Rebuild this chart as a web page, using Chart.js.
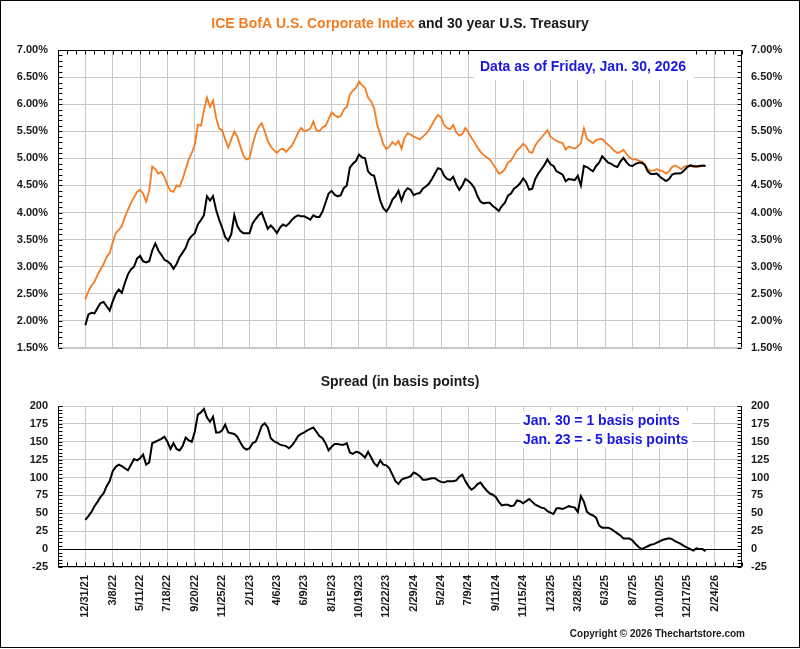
<!DOCTYPE html>
<html>
<head>
<meta charset="utf-8">
<script src="https://cdn.jsdelivr.net/npm/chart.js@4.4.1/dist/chart.umd.min.js"></script>
<style>
  body { margin: 0; background: #fff; }
  #wrap { position: relative; width: 800px; height: 649px; }
  #c1 { position: absolute; left: 0; top: 0; }
  #c2 { position: absolute; left: 0; top: 370px; }
  #frame { position: absolute; left: 0; top: 0; width: 800px; height: 648px; box-sizing: border-box; border: 1px solid #000; pointer-events: none; }
</style>
</head>
<body>
<div id="wrap">
  <canvas id="c1" width="800" height="370"></canvas>
  <canvas id="c2" width="800" height="279"></canvas>
  <div id="frame"></div>
</div>
<script>
// === Dados (leitura aproximada, ~1 ponto por semana a partir de 12/31/21) ===
const tickLabels = ["12/31/21", "3/8/22", "5/11/22", "7/18/22", "9/20/22", "11/25/22", "2/1/23", "4/6/23",
  "6/9/23", "8/15/23", "10/19/23", "12/22/23", "2/29/24", "5/2/24", "7/9/24", "9/11/24", "11/15/24",
  "1/23/25", "3/28/25", "6/3/25", "8/7/25", "10/10/25", "12/17/25", "2/24/26"];

// ICE BofA U.S. Corporate Index (%)
const corporate = [
  2.40, 2.55, 2.65, 2.72, 2.85, 2.95, 3.05, 3.18, 3.25,
  3.45, 3.62, 3.68, 3.75, 3.92, 4.05, 4.18, 4.28, 4.38,
  4.42, 4.35, 4.20, 4.40, 4.85, 4.80, 4.72, 4.75, 4.66,
  4.50, 4.40, 4.38, 4.50, 4.48, 4.62, 4.80, 4.98, 5.10,
  5.25, 5.62, 5.60, 5.88, 6.12, 5.95, 6.07, 5.75, 5.55,
  5.52, 5.35, 5.20, 5.35, 5.50, 5.40, 5.22, 5.05, 4.98,
  5.00, 5.25, 5.45, 5.58, 5.65, 5.50, 5.32, 5.22, 5.15,
  5.10, 5.16, 5.18, 5.12, 5.18, 5.24, 5.35, 5.48, 5.56,
  5.50, 5.52, 5.55, 5.68, 5.52, 5.50, 5.57, 5.60, 5.72,
  5.85, 5.80, 5.76, 5.78, 5.90, 5.95, 6.18, 6.25, 6.30,
  6.42, 6.35, 6.30, 6.12, 6.05, 5.92, 5.62, 5.45, 5.26,
  5.17, 5.22, 5.30, 5.25, 5.32, 5.18, 5.38, 5.46, 5.44,
  5.40, 5.38, 5.35, 5.40, 5.45, 5.52, 5.62, 5.72, 5.80,
  5.76, 5.62, 5.56, 5.54, 5.62, 5.48, 5.42, 5.45, 5.56,
  5.48, 5.38, 5.30, 5.20, 5.12, 5.06, 5.02, 4.98, 4.90,
  4.82, 4.72, 4.74, 4.80, 4.92, 4.96, 5.05, 5.15, 5.20,
  5.27, 5.22, 5.12, 5.10, 5.24, 5.32, 5.38, 5.45, 5.52,
  5.40, 5.36, 5.32, 5.30, 5.28, 5.16, 5.22, 5.20, 5.18,
  5.22, 5.28, 5.55, 5.36, 5.32, 5.28, 5.34, 5.35, 5.36,
  5.30, 5.25, 5.20, 5.14, 5.10, 5.12, 5.16, 5.08, 5.02,
  4.98, 4.98, 4.96, 4.94, 4.90, 4.80, 4.77, 4.78, 4.80,
  4.78, 4.76, 4.72, 4.76, 4.84, 4.87, 4.84, 4.80, 4.85,
  4.86, 4.87, 4.84, 4.85, 4.85, 4.86, 4.87
];

// 30 year U.S. Treasury (%)
const treasury = [
  1.92, 2.12, 2.15, 2.14, 2.24, 2.33, 2.35, 2.27, 2.19,
  2.36, 2.50, 2.58, 2.52, 2.70, 2.86, 2.95, 3.00, 3.15,
  3.20, 3.10, 3.08, 3.10, 3.30, 3.43, 3.30, 3.22, 3.13,
  3.10, 3.05, 2.96, 3.05, 3.18, 3.26, 3.35, 3.50, 3.57,
  3.62, 3.78, 3.86, 3.95, 4.30, 4.22, 4.30, 4.05, 3.87,
  3.72, 3.55, 3.48, 3.60, 3.95, 3.75, 3.66, 3.62, 3.62,
  3.62, 3.80, 3.88, 3.95, 4.00, 3.85, 3.70, 3.76, 3.70,
  3.62, 3.72, 3.78, 3.75, 3.80, 3.87, 3.92, 3.95, 3.93,
  3.93, 3.90, 3.87, 3.95, 3.92, 3.92, 4.02, 4.18, 4.35,
  4.40, 4.33, 4.30, 4.32, 4.45, 4.50, 4.83, 4.90, 4.95,
  5.07, 5.02, 5.00, 4.76, 4.70, 4.68, 4.45, 4.22, 4.08,
  4.02, 4.10, 4.24, 4.30, 4.40, 4.22, 4.38, 4.45, 4.42,
  4.32, 4.35, 4.36, 4.44, 4.48, 4.53, 4.62, 4.72, 4.82,
  4.80, 4.68, 4.62, 4.60, 4.66, 4.52, 4.42, 4.50, 4.62,
  4.58, 4.53, 4.45, 4.30, 4.20, 4.17, 4.18, 4.18, 4.12,
  4.08, 4.03, 4.12, 4.18, 4.31, 4.35, 4.44, 4.48, 4.54,
  4.63, 4.56, 4.42, 4.44, 4.62, 4.72, 4.80, 4.88, 4.98,
  4.89, 4.86, 4.76, 4.73, 4.70, 4.58, 4.62, 4.61, 4.60,
  4.68, 4.50, 4.86, 4.84, 4.80, 4.76, 4.86, 4.92, 5.04,
  4.98, 4.92, 4.90, 4.86, 4.84, 4.94, 5.01, 4.93, 4.87,
  4.86, 4.90, 4.92, 4.92, 4.88, 4.76, 4.71, 4.71, 4.72,
  4.66, 4.62, 4.58, 4.62, 4.70, 4.72, 4.72, 4.73, 4.78,
  4.84, 4.87, 4.86, 4.85, 4.86, 4.87, 4.86
];

// Spread (basis points)
const spread = [
  41, 46, 52, 60, 66, 73, 78, 88, 95,
  109, 115, 118, 116, 113, 110, 118, 126, 124,
  127, 132, 118, 121, 148, 150, 152, 154, 157,
  150, 140, 148, 140, 138, 144, 156, 152, 150,
  164, 188, 191, 196, 184, 178, 185, 163, 163,
  166, 174, 163, 162, 161, 157, 149, 142, 139,
  141, 148, 150, 160, 172, 176, 170, 155, 151,
  149, 146, 145, 144, 141, 145, 151, 158, 161,
  163, 166, 168, 170, 164, 158, 155, 148, 138,
  143, 147, 147, 146, 146, 148, 135, 133, 136,
  135, 132, 128, 136, 128, 120, 116, 124, 118,
  117, 113, 104, 95, 91, 97, 99, 100, 102,
  107, 105, 102, 97, 97, 98, 99, 99, 96,
  94, 93, 95, 95, 95, 96, 101, 104, 95,
  88, 83, 86, 91, 93, 87, 82, 78, 76,
  73, 66, 61, 62, 62, 60, 61, 68, 67,
  64, 67, 70, 66, 62, 60, 58, 57, 53,
  51, 49, 57, 57, 56, 58, 60, 59, 58,
  52, 74, 66, 52, 49, 47, 44, 33, 30,
  30, 30, 28, 25, 22, 19, 15, 15, 15,
  12, 7, 3, 0, 2, 4, 6, 7, 9,
  11, 13, 14, 15, 14, 11, 9, 7, 4,
  2, 0, -2, 1, 0, 0, -3
];

// === Eixo x: posições semanais, um rótulo a cada 9 posições ===
const STEP = 9;
const START = STEP;           // 12/31/21
const SLOTS = 25 * STEP + 1;  // uma divisão antes e uma depois dos rótulos
const labels = [];
for (let i = 0; i < SLOTS; i++) {
  const k = i / STEP - 1;
  labels.push(i % STEP === 0 && k >= 0 && k < tickLabels.length ? tickLabels[k] : "");
}
const pad = arr => Array(START).fill(null).concat(arr);

const FONT = '"Liberation Sans", Arial, sans-serif';
const GRID = "#c8c8c8";
const TXT = "#1a1a1a";
const ORANGE = "#f47b20";
const BLUE = "#1818e0";
Chart.defaults.font.family = FONT;

const tickFont = { family: FONT, weight: "bold", size: 11 };
const vGrid = { color: c => (labels[c.index] ? GRID : "rgba(0,0,0,0)"), drawTicks: false, lineWidth: 1 };

function yAxis(pos, min, max, step, fmt, grid) {
  return {
    position: pos, min, max,
    afterFit: a => { a.width = 58; },
    ticks: { stepSize: step, padding: pos === "left" ? 10 : 9, color: TXT, font: tickFont, callback: fmt },
    grid: grid || { display: false, drawTicks: false },
    border: { display: false }
  };
}

function line(ctx, x1, y1, x2, y2, color) {
  ctx.strokeStyle = color;
  ctx.beginPath();
  ctx.moveTo(x1, y1);
  ctx.lineTo(x2, y2);
  ctx.stroke();
}

function textBox(ctx, lines, x, y0, dy, box) {
  ctx.fillStyle = "#fff";
  ctx.fillRect(box[0], box[1], box[2], box[3]);
  ctx.fillStyle = BLUE;
  ctx.font = "bold 14px " + FONT;
  ctx.textBaseline = "middle";
  lines.forEach((t, i) => ctx.fillText(t, x, y0 + i * dy));
}

// moldura e marcas menores, posicionadas pelas escalas do próprio gráfico
function drawFrame(chart, topColor, bottomColor, ySub, tickAtTop) {
  const { ctx, chartArea: a, scales } = chart;
  const L = Math.round(a.left) + 0.5, R = Math.round(a.right) - 0.5;
  const T = Math.round(a.top) + 0.5, B = Math.round(a.bottom) - 0.5;
  ctx.save();
  ctx.lineWidth = 1;
  line(ctx, L, T, R, T, topColor);
  line(ctx, L, B, R, B, bottomColor);
  line(ctx, L, T, L, B, "#000");
  line(ctx, R, T, R, B, "#000");
  const ys = scales.y;
  for (let v = ys.min; v <= ys.max + 1e-9; v += ySub) {
    const y = Math.round(ys.getPixelForValue(v)) + 0.5;
    line(ctx, L, y, L + 4, y, "#000");
    line(ctx, R, y, R - 4, y, "#000");
  }
  for (let i = 0; i < SLOTS; i += 3) {
    const x = Math.round(scales.x.getPixelForValue(i)) + 0.5;
    if (tickAtTop) line(ctx, x, T, x, T + 4, "#000");
    else line(ctx, x, B, x, B - 4, "#000");
  }
  ctx.restore();
}

const topDecor = {
  id: "topDecor",
  afterDraw(chart) {
    const ctx = chart.ctx;
    drawFrame(chart, "#000", GRID, 0.1, true);
    ctx.save();
    textBox(ctx, ["Data as of Friday, Jan. 30, 2026"], 480, 67, 0, [474, 51, 220, 29]);
    const p1 = "ICE BofA U.S. Corporate Index", p2 = " and 30 year U.S. Treasury";
    ctx.font = "bold 14px " + FONT;
    ctx.textBaseline = "middle";
    const w1 = ctx.measureText(p1).width, w2 = ctx.measureText(p2).width;
    const x0 = 400 - (w1 + w2) / 2;
    ctx.fillStyle = ORANGE;
    ctx.fillText(p1, x0, 24);
    ctx.fillStyle = TXT;
    ctx.fillText(p2, x0 + w1, 24);
    ctx.restore();
  }
};

const bottomDecor = {
  id: "bottomDecor",
  afterDraw(chart) {
    const ctx = chart.ctx;
    drawFrame(chart, GRID, "#000", 5, false);
    ctx.save();
    textBox(ctx, ["Jan. 30 = 1 basis points", "Jan. 23 = - 5 basis points"], 523, 51, 19, [520, 41, 172, 37]);
    ctx.fillStyle = TXT;
    ctx.textBaseline = "middle";
    ctx.textAlign = "center";
    ctx.font = "bold 14px " + FONT;
    ctx.fillText("Spread (in basis points)", 400, 12);
    ctx.textAlign = "right";
    ctx.font = "bold 10px " + FONT;
    ctx.fillText("Copyright \u00a9 2026 Thechartstore.com", 745, 264);
    ctx.restore();
  }
};

// === Gráfico de cima: taxas ===
new Chart(document.getElementById("c1"), {
  type: "line",
  data: {
    labels,
    datasets: [
      { label: "30 year U.S. Treasury", data: pad(treasury), borderColor: "#000", borderWidth: 2, pointRadius: 0, tension: 0 },
      { label: "ICE BofA U.S. Corporate Index", data: pad(corporate), borderColor: ORANGE, borderWidth: 1.8, pointRadius: 0, tension: 0 }
    ]
  },
  options: {
    responsive: false,
    animation: false,
    devicePixelRatio: 1,
    layout: { padding: { top: 50, left: 0, right: 0, bottom: 0 } },
    plugins: { legend: { display: false }, tooltip: { enabled: false } },
    scales: {
      x: { ticks: { display: false, autoSkip: false }, grid: vGrid, border: { display: false }, afterFit: a => { a.height = 22; } },
      y: yAxis("left", 1.5, 7, 0.5, v => v.toFixed(2) + "%", { color: GRID, drawTicks: false }),
      y2: yAxis("right", 1.5, 7, 0.5, v => v.toFixed(2) + "%")
    }
  },
  plugins: [topDecor]
});

// === Gráfico de baixo: spread ===
new Chart(document.getElementById("c2"), {
  type: "line",
  data: {
    labels,
    datasets: [
      { label: "Spread", data: pad(spread), borderColor: "#000", borderWidth: 2, pointRadius: 0, tension: 0 }
    ]
  },
  options: {
    responsive: false,
    animation: false,
    devicePixelRatio: 1,
    layout: { padding: { top: 36, left: 0, right: 0, bottom: 0 } },
    plugins: { legend: { display: false }, tooltip: { enabled: false } },
    scales: {
      x: {
        ticks: { autoSkip: false, minRotation: 90, maxRotation: 90, padding: 8, color: TXT, font: tickFont },
        grid: vGrid, border: { display: false },
        afterFit: a => { a.height = 82; }
      },
      y: yAxis("left", -25, 200, 25, v => String(v), { color: c => (c.tick.value === 0 ? "#000" : GRID), drawTicks: false }),
      y2: yAxis("right", -25, 200, 25, v => String(v))
    }
  },
  plugins: [bottomDecor]
});
</script>
</body>
</html>
